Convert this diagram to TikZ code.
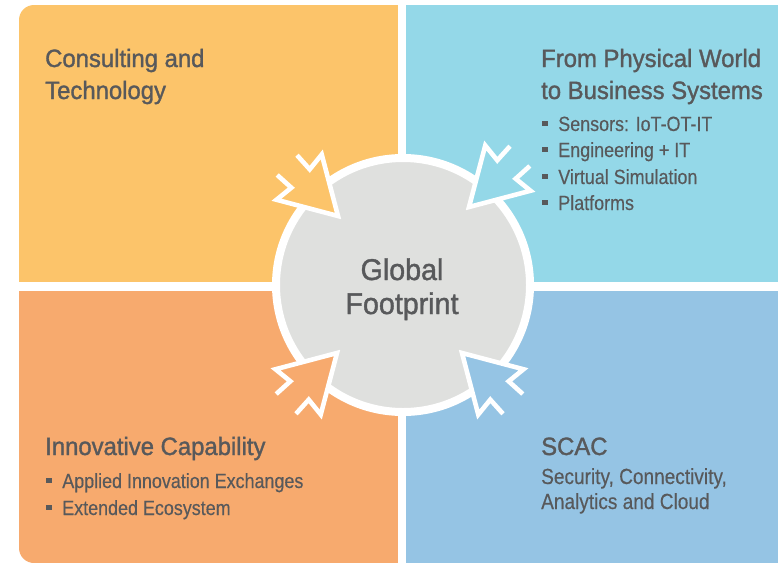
\documentclass[tikz,border=0pt]{standalone}
\usepackage{fontspec}
\setmainfont{Liberation Sans}[FakeStretch=0.87, FakeBold=0.35]
\newfontfamily\headfont{Liberation Sans}[FakeStretch=0.955, FakeBold=1.3]
\definecolor{qTL}{RGB}{252,196,106}
\definecolor{qTR}{RGB}{148,216,232}
\definecolor{qBL}{RGB}{247,170,110}
\definecolor{qBR}{RGB}{149,196,228}
\definecolor{circfill}{RGB}{223,224,222}
\definecolor{txt}{RGB}{88,89,91}
\newcommand{\blt}{\rule[4.6pt]{5.6pt}{5.6pt}\hspace{10.5pt}}
\tikzset{
  title/.style={anchor=base west, inner sep=0pt, text=txt, font=\headfont\fontsize{25}{32}\selectfont},
  item/.style={anchor=base west, inner sep=0pt, text=txt, font=\fontsize{20.6}{26}\selectfont},
  body/.style={anchor=base west, inner sep=0pt, text=txt, font=\fontsize{21.9}{26}\selectfont},
  center/.style={anchor=base, inner sep=0pt, text=txt, font=\headfont\fontsize{30}{34}\selectfont},
  pics/inarrow/.style={code={
    \path[fill=#1, draw=white, line width=4.6pt, miter limit=10]
      (-72pt,14pt) -- (-53pt,13pt) -- (-55pt,32pt) -- (0pt,0pt)
      -- (-55pt,-32pt) -- (-53pt,-13pt) -- (-72pt,-14pt);
  }}
}
\begin{document}
\begin{tikzpicture}[x=1pt,y=-1pt]
\useasboundingbox (0,0) rectangle (778,565);
\fill[white] (0,0) rectangle (778,565);
\begin{scope}
  \clip[rounded corners=15pt] (19,5) rectangle (800,563);
  \fill[qTL] (19,5) rectangle (398,282);
  \fill[qTR] (406,5) rectangle (800,282);
  \fill[qBL] (19,291) rectangle (398,563);
  \fill[qBR] (406,291) rectangle (800,563);
\end{scope}
\node[circle, minimum size=254pt, fill=circfill, draw=white, line width=8pt, inner sep=0pt] (hub) at (403,285) {};
\pic[rotate=-45] (aTL) at (338,216) {inarrow=qTL};
\pic[rotate=-135] (aTR) at (469,207) {inarrow=qTR};
\pic[rotate=45] (aBL) at (337,353) {inarrow=qBL};
\pic[rotate=135] (aBR) at (462,353) {inarrow=qBR};
\node[center] (g1) at (402,280) {Global};
\node[center] (g2) at (402,314) {Footprint};
\node[title] (t1a) at (45,67) {Consulting and};
\node[title] (t1b) at (45,99) {Technology};
\node[title] (t2a) at (541,67) {From Physical World};
\node[title] (t2b) at (541,99) {to Business Systems};
\node[item] (i21) at (542,131) {\blt Sensors: IoT-OT-IT};
\node[item] (i22) at (542,157) {\blt Engineering + IT};
\node[item] (i23) at (542,184) {\blt Virtual Simulation};
\node[item] (i24) at (542,210) {\blt Platforms};
\node[title] (t3) at (45,455) {Innovative Capability};
\node[item] (i31) at (46,488) {\blt Applied Innovation Exchanges};
\node[item] (i32) at (46,515) {\blt Extended Ecosystem};
\node[title] (t4) at (541,455) {SCAC};
\node[body] (b41) at (541,484) {Security, Connectivity,};
\node[body] (b42) at (541,509) {Analytics and Cloud};
\end{tikzpicture}
\end{document}
